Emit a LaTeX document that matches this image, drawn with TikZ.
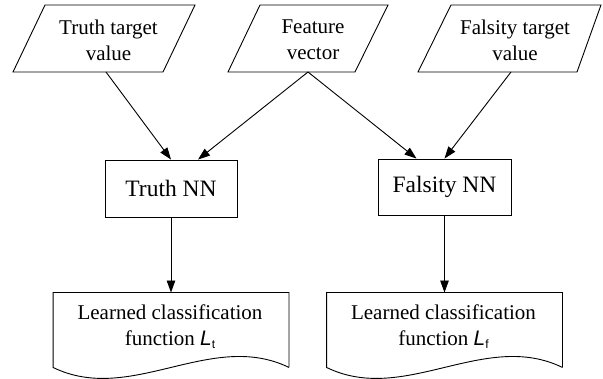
\documentclass[tikz,border=0pt]{standalone}
\usepackage{fontspec}
\setmainfont{Liberation Serif}
\newfontfamily\lsans{Liberation Sans}
\usetikzlibrary{arrows.meta,calc}
\begin{document}
\begin{tikzpicture}[x=1pt,y=-1pt,
  line width=0.9pt,
  txt/.style={align=center,inner sep=0pt,font=\fontsize{21}{26}\selectfont},
  nnbox/.style={draw,inner sep=0pt,font=\fontsize{23.5}{28}\selectfont},
  docbox/.style={inner sep=0pt,minimum width=235pt,minimum height=74pt},
  arr/.style={-{Triangle[length=12pt,width=8.5pt]}}]
\useasboundingbox (0,0) rectangle (603,379);
% input parallelograms
\draw (13,72) -- (163,72) -- (195,5) -- (45,5) -- cycle;
\draw (228,72) -- (355,72) -- (388,5) -- (260,5) -- cycle;
\draw (418,72) -- (577,72) -- (601,5) -- (451,5) -- cycle;
\node[txt] (p1) at (108.5,40) {Truth target\\value};
\node[txt] (p2) at (313,40) {Feature\\vector};
\node[txt] (p3) at (515,40) {Falsity target\\value};
\coordinate (p1b) at (106,72);
\coordinate (p2b) at (308,72);
\coordinate (p3b) at (511,72);
% networks
\node[nnbox,minimum width=132pt,minimum height=57pt] (tnn) at (171,188.5) {Truth NN};
\node[nnbox,minimum width=133pt,minimum height=56pt] (fnn) at (444.5,187) {Falsity NN};
\draw[arr] (p1b) -- (tnn.north);
\draw[arr] (p2b) -- ([xshift=27pt]tnn.north);
\draw[arr] (p2b) -- ([xshift=-28pt]fnn.north);
\draw[arr] (p3b) -- (fnn.north);
% documents
\node[docbox] (d1) at (171,330) {};
\node[docbox] (d2) at (444.5,330) {};
\foreach \d in {d1,d2}{
  \draw (\d.south east) -- (\d.north east) -- (\d.north west) -- (\d.south west)
    .. controls ($(\d.south west)+(78,38)$) and ($(\d.south east)+(-78,-38)$) .. (\d.south east);
}
\node[txt] (d1t) at ($(d1)+(-1,-3.5)$) {Learned classification\\function {\lsans\itshape L}\raisebox{-3pt}{\lsans\fontsize{12}{12}\selectfont t}};
\node[txt] (d2t) at ($(d2)+(-1,-3.5)$) {Learned classification\\function {\lsans\itshape L}\raisebox{-3pt}{\lsans\fontsize{12}{12}\selectfont f}};
\draw[arr] (tnn.south) -- (d1.north);
\draw[arr] (fnn.south) -- (d2.north);
\end{tikzpicture}
\end{document}
